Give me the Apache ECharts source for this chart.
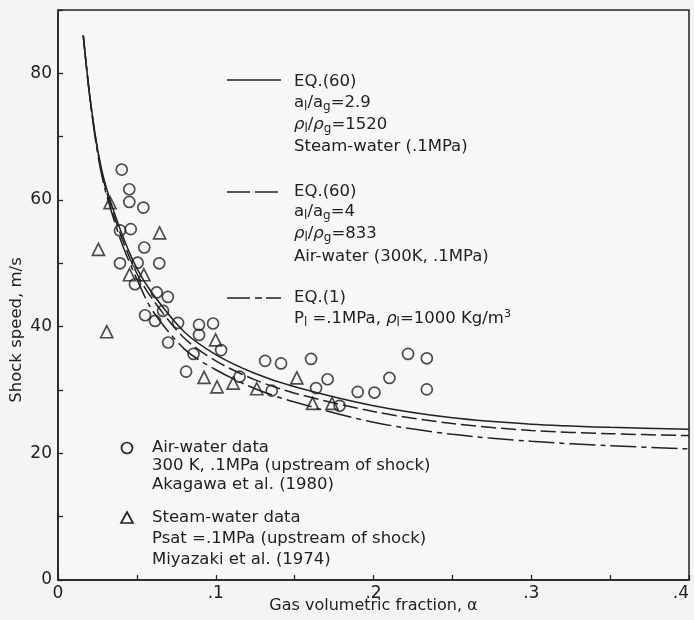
<!DOCTYPE html>
<html>
<head>
<meta charset="utf-8">
<script src="https://cdn.jsdelivr.net/npm/echarts@6.0.0/dist/echarts.min.js"></script>
<style>
  html, body { margin: 0; padding: 0; background: #f4f4f2; }
  #chart { width: 694px; height: 620px; }
</style>
</head>
<body>
<div id="chart"></div>
<script>
// curve samples (gas fraction -> shock speed, m/s)
var curveAlpha = [0.016, 0.02, 0.025, 0.03, 0.04, 0.05, 0.06, 0.08, 0.1, 0.125, 0.15, 0.2, 0.25, 0.3, 0.35, 0.4];
var steamWaterEq60 = [86, 76.8, 68.2, 62.5, 55, 49.2, 45.2, 39.2, 35.6, 32.6, 30.5, 27.5, 25.6, 24.6, 24.1, 23.8];
var airWaterEq60 = [86, 76.6, 67.9, 62, 54.3, 48.4, 44.3, 38.2, 34.6, 31.6, 29.5, 26.6, 24.7, 23.6, 23.1, 22.8];
var eq1 = [86, 76.5, 67.5, 61.5, 53.5, 47.5, 42.5, 36.5, 33.2, 30.2, 28.1, 24.9, 23.0, 21.9, 21.2, 20.7];

// air-water data, Akagawa et al. (1980)
var airAlpha = [0.0404, 0.0452, 0.0452, 0.0541, 0.0461, 0.0393, 0.0547, 0.0393, 0.0505, 0.0642,
  0.0488, 0.0626, 0.0696, 0.0666, 0.0552, 0.0615, 0.0761, 0.0894, 0.0983, 0.0894,
  0.0698, 0.0859, 0.1034, 0.0812, 0.1151, 0.1313, 0.1414, 0.1604, 0.1636, 0.1709,
  0.1355, 0.19, 0.2006, 0.2101, 0.2219, 0.2338, 0.2338, 0.1785];
var airSpeed = [64.8, 61.7, 59.7, 58.8, 55.4, 55.2, 52.5, 50.0, 50.1, 50.0,
  46.7, 45.4, 44.7, 42.5, 41.8, 40.9, 40.6, 40.3, 40.5, 38.7,
  37.5, 35.7, 36.3, 32.9, 32.1, 34.6, 34.2, 34.9, 30.3, 31.7,
  29.9, 29.7, 29.6, 31.9, 35.7, 35.0, 30.1, 27.5];

// steam-water data, Miyazaki et al. (1974)
var steamAlpha = [0.033, 0.0644, 0.0256, 0.0453, 0.0544, 0.0309, 0.0999, 0.0926, 0.1008, 0.111, 0.126, 0.1514, 0.1614, 0.1737];
var steamSpeed = [59.6, 54.8, 52.2, 48.2, 48.2, 39.2, 37.9, 32.0, 30.5, 31.1, 30.2, 31.9, 27.9, 27.9];

function pairs(xs, ys) {
  return xs.map(function (x, i) { return [x, ys[i]]; });
}

var ink = "#222";
var fontFamily = '"DejaVu Sans", sans-serif';
var textSize = 16.5;
var rich = {
  sub: { fontSize: 12, fontFamily: fontFamily, lineHeight: 11, verticalAlign: "bottom", fill: ink, color: ink },
  sup: { fontSize: 11, fontFamily: fontFamily, lineHeight: 10, verticalAlign: "top", fill: ink, color: ink },
  rho: { fontSize: textSize, fontFamily: fontFamily, fontStyle: "italic", lineHeight: 20, fill: ink, color: ink }
};

function label(x, y, s) {
  return {
    type: "text", x: x, y: y,
    style: {
      text: s, fontSize: textSize, fontFamily: fontFamily, fill: ink,
      verticalAlign: "middle", lineHeight: 20, rich: rich
    }
  };
}
function sample(y, dash) {
  return {
    type: "line",
    shape: { x1: 227, y1: y, x2: 281, y2: y },
    style: { stroke: ink, lineWidth: 1.5, lineDash: dash }
  };
}

var chartDom = document.getElementById("chart");
var myChart = echarts.init(chartDom, null, { renderer: "canvas" });
var option;

option = {
  backgroundColor: "#f4f4f2",
  animation: false,
  grid: {
    left: 58, right: 5, top: 10, bottom: 40,
    outerBoundsMode: "none",
    show: true, borderColor: ink, borderWidth: 1.5, backgroundColor: "#f7f7f5"
  },
  xAxis: {
    type: "value",
    min: 0, max: 0.4, interval: 0.05,
    name: "Gas volumetric fraction, α",
    nameLocation: "middle",
    nameGap: 18,
    nameMoveOverlap: false,
    nameTextStyle: { fontSize: 16, fontFamily: fontFamily, color: ink },
    axisLine: { lineStyle: { color: ink, width: 1.5 } },
    axisTick: { inside: true, length: 5, lineStyle: { color: ink, width: 1.3 } },
    axisLabel: {
      margin: 5, fontSize: 17, fontFamily: fontFamily, color: ink,
      alignMaxLabel: "right",
      formatter: function (v) {
        var k = Math.round(v * 20);
        if (k % 2) return "";
        return k === 0 ? "0" : "." + (k / 2);
      }
    },
    splitLine: { show: false }
  },
  yAxis: {
    type: "value",
    min: 0, max: 90, interval: 10,
    name: "Shock speed, m/s",
    nameLocation: "middle",
    nameGap: 33,
    nameMoveOverlap: false,
    nameTextStyle: { fontSize: 16.5, fontFamily: fontFamily, color: ink, padding: [0, 70, 0, 0] },
    axisLine: { show: true, lineStyle: { color: ink, width: 1.5 } },
    axisTick: { show: true, inside: true, length: 5, lineStyle: { color: ink, width: 1.3 } },
    axisLabel: {
      margin: 6, fontSize: 17, fontFamily: fontFamily, color: ink,
      formatter: function (v) { return v % 20 === 0 && v < 90 ? String(v) : ""; }
    },
    splitLine: { show: false }
  },
  series: [
    {
      name: "EQ.(60) steam-water",
      type: "line", smooth: 0.3, symbol: "none",
      data: pairs(curveAlpha, steamWaterEq60),
      lineStyle: { color: ink, width: 1.5 }
    },
    {
      name: "EQ.(60) air-water",
      type: "line", smooth: 0.3, symbol: "none",
      data: pairs(curveAlpha, airWaterEq60),
      lineStyle: { color: ink, width: 1.5, type: [15, 5] }
    },
    {
      name: "EQ.(1)",
      type: "line", smooth: 0.3, symbol: "none",
      data: pairs(curveAlpha, eq1),
      lineStyle: { color: ink, width: 1.5, type: [26, 5, 5, 5] }
    },
    {
      name: "Air-water data",
      type: "scatter", symbol: "circle", symbolSize: 11,
      data: pairs(airAlpha, airSpeed),
      itemStyle: { color: "rgba(0,0,0,0)", borderColor: ink, borderWidth: 1.7 }
    },
    {
      name: "Steam-water data",
      type: "scatter", symbol: "triangle", symbolSize: 12,
      data: pairs(steamAlpha, steamSpeed),
      itemStyle: { color: "rgba(0,0,0,0)", borderColor: ink, borderWidth: 1.7 }
    }
  ],
  graphic: [
    sample(80, null),
    label(294, 82, "EQ.(60)"),
    label(294, 103, "a{sub|l}/a{sub|g}=2.9"),
    label(294, 125, "{rho|ρ}{sub|l}/{rho|ρ}{sub|g}=1520"),
    label(294, 147, "Steam-water (.1MPa)"),

    sample(192, [23, 5]),
    label(294, 192, "EQ.(60)"),
    label(294, 212, "a{sub|l}/a{sub|g}=4"),
    label(294, 234, "{rho|ρ}{sub|l}/{rho|ρ}{sub|g}=833"),
    label(294, 257, "Air-water (300K, .1MPa)"),

    sample(298, [23, 5, 7, 4]),
    label(294, 298, "EQ.(1)"),
    label(294, 319, "P{sub|l} =.1MPa, {rho|ρ}{sub|l}=1000 Kg/m{sup|3}"),

    {
      type: "circle",
      shape: { cx: 127, cy: 448, r: 5.5 },
      style: { fill: "none", stroke: ink, lineWidth: 1.7 }
    },
    label(152, 448, "Air-water data"),
    label(152, 466, "300 K, .1MPa (upstream of shock)"),
    label(152, 485, "Akagawa et al. (1980)"),

    {
      type: "polygon",
      shape: { points: [[127, 512], [133, 523], [121, 523]] },
      style: { fill: "none", stroke: ink, lineWidth: 1.7 }
    },
    label(152, 518, "Steam-water data"),
    label(152, 539, "Psat =.1MPa (upstream of shock)"),
    label(152, 560, "Miyazaki et al. (1974)")
  ]
};

option && myChart.setOption(option);
</script>
</body>
</html>
